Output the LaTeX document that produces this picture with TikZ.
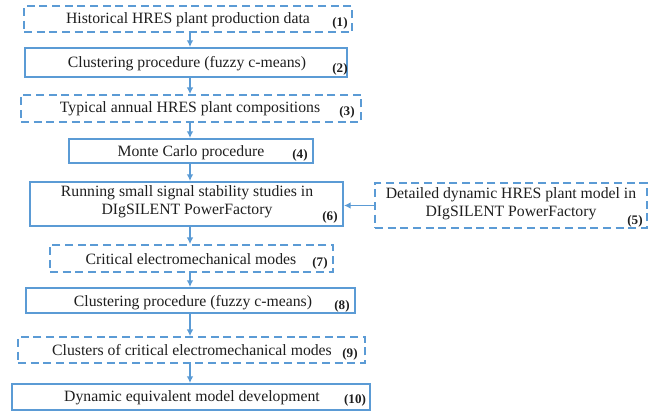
\documentclass[tikz,border=0pt]{standalone}
\usepackage{fontspec}
\setmainfont{Liberation Serif}
\usetikzlibrary{arrows.meta}
\usetikzlibrary{fit}
\definecolor{boxblue}{RGB}{91,155,213}
\definecolor{txtgray}{RGB}{30,30,30}
\tikzset{
  solidbox/.style={draw=boxblue, line width=1.5pt, inner sep=0pt},
  dashbox/.style={draw=boxblue, line width=1.3pt, dash pattern=on 6pt off 3.5pt, inner sep=0pt},
  lbl/.style={text=txtgray, font=\fontsize{11.8}{13.5}\selectfont, align=center, inner sep=0pt},
  num/.style={text=txtgray, font=\fontsize{9.8}{11}\selectfont\bfseries, inner sep=0pt},
  arr/.style={draw=boxblue, line width=1.1pt, -{Latex[length=5pt,width=5pt]}}
}
\newcommand{\pbox}[6]{\node[#6, fit={(#2,#3) (#4,#5)}] (#1) {};}

\begin{document}
\begin{tikzpicture}[x=0.75pt,y=-0.75pt]
    \useasboundingbox (0,0) rectangle (657,415);
    \coordinate (axis) at (190,0);

    \pbox{b1}{24}{6}{352}{32}{dashbox}
    \pbox{b2}{25}{48}{347}{77}{solidbox}
    \pbox{b3}{21}{95}{361}{122}{dashbox}
    \pbox{b4}{69}{139}{313}{163}{solidbox}
    \pbox{b6}{30}{182}{343}{226}{solidbox}
    \pbox{b5}{375}{183}{647}{228}{dashbox}
    \pbox{b7}{50}{245}{333}{272}{dashbox}
    \pbox{b8}{26}{288}{355}{313}{solidbox}
    \pbox{b9}{18}{337}{365}{363}{dashbox}
    \pbox{b10}{12}{384}{370}{410}{solidbox}

    \node[lbl] (t1) at (188,19.5) {Historical HRES plant production data};
    \node[lbl] (t2) at (187,63.5) {Clustering procedure (fuzzy c-means)};
    \node[lbl] (t3) at (190,108.5) {Typical annual HRES plant compositions};
    \node[lbl] (t4) at (191,152.5) {Monte Carlo procedure};
    \node[lbl] (t6) at (187,202) {Running small signal stability studies in\\DIgSILENT PowerFactory};
    \node[lbl] (t5) at (511,204) {Detailed dynamic HRES plant model in\\DIgSILENT PowerFactory};
    \node[lbl] (t7) at (191,259.5) {Critical electromechanical modes};
    \node[lbl] (t8) at (193,302.5) {Clustering procedure (fuzzy c-means)};
    \node[lbl] (t9) at (192,350.5) {Clusters of critical electromechanical modes};
    \node[lbl] (t10) at (192,397.5) {Dynamic equivalent model development};

    \node[num] (n1) at (340,23) {(1)};
    \node[num] (n2) at (340,69) {(2)};
    \node[num] (n3) at (347,112) {(3)};
    \node[num] (n4) at (300,155) {(4)};
    \node[num] (n6) at (330,217) {(6)};
    \node[num] (n5) at (635,221) {(5)};
    \node[num] (n7) at (320,263) {(7)};
    \node[num] (n8) at (342,306) {(8)};
    \node[num] (n9) at (350,354) {(9)};
    \node[num] (n10) at (355,400) {(10)};

    \draw[arr] (b1.south -| axis) -- (b2.north -| axis);
    \draw[arr] (b2.south -| axis) -- (b3.north -| axis);
    \draw[arr] (b3.south -| axis) -- (b4.north -| axis);
    \draw[arr] (b4.south -| axis) -- (b6.north -| axis);
    \draw[arr] (b6.south -| axis) -- (b7.north -| axis);
    \draw[arr] (b7.south -| axis) -- (b8.north -| axis);
    \draw[arr] (b8.south -| axis) -- (b9.north -| axis);
    \draw[arr] (b9.south -| axis) -- (b10.north -| axis);
    \draw[arr] (b5.west) -- (b5.west -| b6.east);
  \end{tikzpicture}
\end{document}
